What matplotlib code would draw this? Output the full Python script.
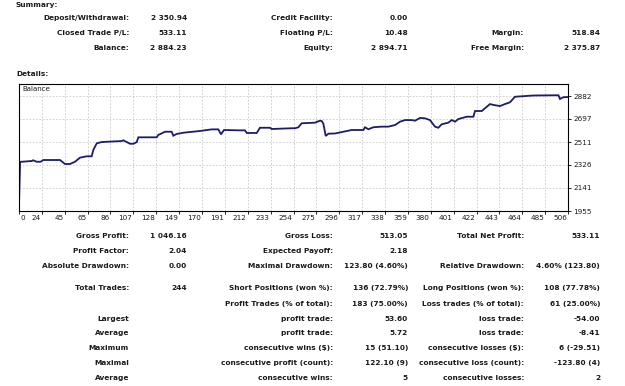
import matplotlib
matplotlib.use("Agg")
import matplotlib.pyplot as plt

# ---- data (trade number, balance) ----
trade_idx = [0, 1, 11.7, 13, 16.3, 20, 22.4, 37.8, 42.4, 47,
             51.6, 56.2, 62.4, 67, 68.5, 71.6, 76.2, 94.6, 96.1, 102.3,
             105.4, 108.5, 110, 126.9, 128.4, 134.6, 140.7, 142.2, 145.3, 151.4,
             166.8, 177.6, 183.7, 186.2, 189, 203.7, 208.3, 209.9, 219.1, 222.1,
             231.3, 232.9, 251.3, 254.4, 257.5, 260.5, 272.8, 277.4, 279, 280.5,
             282.7, 285.1, 291.3, 306.6, 317.4, 318.9, 322, 326.6, 334.3, 340.4,
             346.6, 351.2, 355.8, 361.9, 365, 369.6, 374.2, 378.8, 383.4, 386.5,
             389.6, 395.7, 398.8, 401.9, 404.9, 412.6, 418.8, 420.3, 426.5, 429.5,
             434.1, 437.2, 443.3, 447.9, 452.5, 457.1, 474, 495.6, 497.2, 498.6,
             501.7, 506]
balance = [2000, 2351, 2358, 2364, 2352, 2352, 2366, 2366, 2334, 2334,
           2352, 2385, 2396, 2396, 2447, 2500, 2511, 2519, 2525, 2497,
           2497, 2510, 2549, 2549, 2568, 2594, 2594, 2562, 2576, 2586,
           2600, 2613, 2613, 2573, 2608, 2605, 2605, 2584, 2584, 2626,
           2626, 2616, 2622, 2622, 2630, 2662, 2667, 2683, 2680, 2660,
           2560, 2578, 2580, 2608, 2608, 2630, 2614, 2630, 2635, 2635,
           2648, 2675, 2688, 2688, 2683, 2705, 2702, 2688, 2635, 2626,
           2654, 2667, 2688, 2675, 2696, 2715, 2715, 2761, 2761, 2783,
           2817, 2810, 2801, 2817, 2831, 2876, 2886, 2888, 2888, 2858,
           2872, 2874]
xtick_labels = ["0", "24", "45", "65", "86", "107", "128", "149", "170", "191", "212", "233",
                "254", "275", "296", "317", "338", "359", "380", "401", "422", "443", "464",
                "485", "506"]
ytick_values = [1955, 2141, 2326, 2511, 2697, 2882]

summary_rows = [
    [("Deposit/Withdrawal:", "2 350.94"), ("Credit Facility:", "0.00"), None],
    [("Closed Trade P/L:", "533.11"), ("Floating P/L:", "10.48"), ("Margin:", "518.84")],
    [("Balance:", "2 884.23"), ("Equity:", "2 894.71"), ("Free Margin:", "2 375.87")],
]
detail_rows = [
    [("Gross Profit:", "1 046.16"), ("Gross Loss:", "513.05"), ("Total Net Profit:", "533.11")],
    [("Profit Factor:", "2.04"), ("Expected Payoff:", "2.18"), None],
    [("Absolute Drawdown:", "0.00"), ("Maximal Drawdown:", "123.80 (4.60%)"),
     ("Relative Drawdown:", "4.60% (123.80)")],
    [("Total Trades:", "244"), ("Short Positions (won %):", "136 (72.79%)"),
     ("Long Positions (won %):", "108 (77.78%)")],
    [None, ("Profit Trades (% of total):", "183 (75.00%)"),
     ("Loss trades (% of total):", "61 (25.00%)")],
    [("Largest", ""), ("profit trade:", "53.60"), ("loss trade:", "-54.00")],
    [("Average", ""), ("profit trade:", "5.72"), ("loss trade:", "-8.41")],
    [("Maximum", ""), ("consecutive wins ($):", "15 (51.10)"),
     ("consecutive losses ($):", "6 (-29.51)")],
    [("Maximal", ""), ("consecutive profit (count):", "122.10 (9)"),
     ("consecutive loss (count):", "-123.80 (4)")],
    [("Average", ""), ("consecutive wins:", "5"), ("consecutive losses:", "2")],
]

W, H = 625, 386
fig = plt.figure(figsize=(W / 100, H / 100), dpi=100)
fig.patch.set_facecolor("white")

FONT = "DejaVu Sans"
FS = 5.3
TXT = "#1a1a1a"

def px(x, y):
    return x / W, 1 - y / H

def put(x, y, s, ha="right", weight="bold", size=FS):
    fx, fy = px(x, y)
    fig.text(fx, fy, s, ha=ha, va="center", fontsize=size, fontweight=weight,
             family=FONT, color=TXT)

# headers
put(16, 5, "Summary:", ha="left")
put(16, 74, "Details:", ha="left")

label_right = [129, 333, 524]
value_right = [187, 408, 600]

sum_y = [18, 33, 48]
for y, row in zip(sum_y, summary_rows):
    for c, cell in enumerate(row):
        if cell is None:
            continue
        put(label_right[c], y, cell[0])
        put(value_right[c], y, cell[1])

det_y = [235.7, 251, 266, 288.3, 303.7, 318.7, 333.3, 348.3, 363.3, 378.3]
for y, row in zip(det_y, detail_rows):
    for c, cell in enumerate(row):
        if cell is None:
            continue
        put(label_right[c], y, cell[0])
        if cell[1]:
            put(value_right[c], y, cell[1])

# chart
L, R, T, B = 19, 568, 84, 211
ax = fig.add_axes([L / W, 1 - B / H, (R - L) / W, (B - T) / H])
ax.plot(trade_idx, balance, color="#1c1c6b", lw=1.3, solid_joinstyle="miter")
xmax = 506
ymin = ytick_values[0]
step = (ytick_values[-1] - ytick_values[0]) / 5
ymax = ytick_values[-1] + step * 12 / 23
ax.set_xlim(0, xmax)
ax.set_ylim(ymin, ymax)

xticks = [i * xmax / 24 for i in range(25)]
ax.set_xticks(xticks)
ax.set_xticklabels([])
ax.set_yticks(ytick_values)
ax.yaxis.tick_right()
ax.set_yticklabels([str(v) for v in ytick_values], fontsize=5.2, family=FONT, color=TXT)
ax.tick_params(axis="y", length=2, width=0.6, pad=2)
ax.tick_params(axis="x", length=2, width=0.6)
for i, (xt, lab) in enumerate(zip(xticks, xtick_labels)):
    ax.text(xt + (1.5 if i == 0 else -1), -0.035, lab, transform=ax.get_xaxis_transform(),
            ha="left" if i == 0 else "right", va="top", fontsize=5.2, family=FONT, color=TXT)
ax.grid(True, color="#c8c8c8", lw=0.6, ls=(0, (2, 2)))
for s in ax.spines.values():
    s.set_color("black")
    s.set_linewidth(0.8)
ax.text(0.006, 0.985, "Balance", transform=ax.transAxes, ha="left", va="top",
        fontsize=5.0, family=FONT, color=TXT)

fig.savefig("out.png", dpi=100, facecolor="white")
